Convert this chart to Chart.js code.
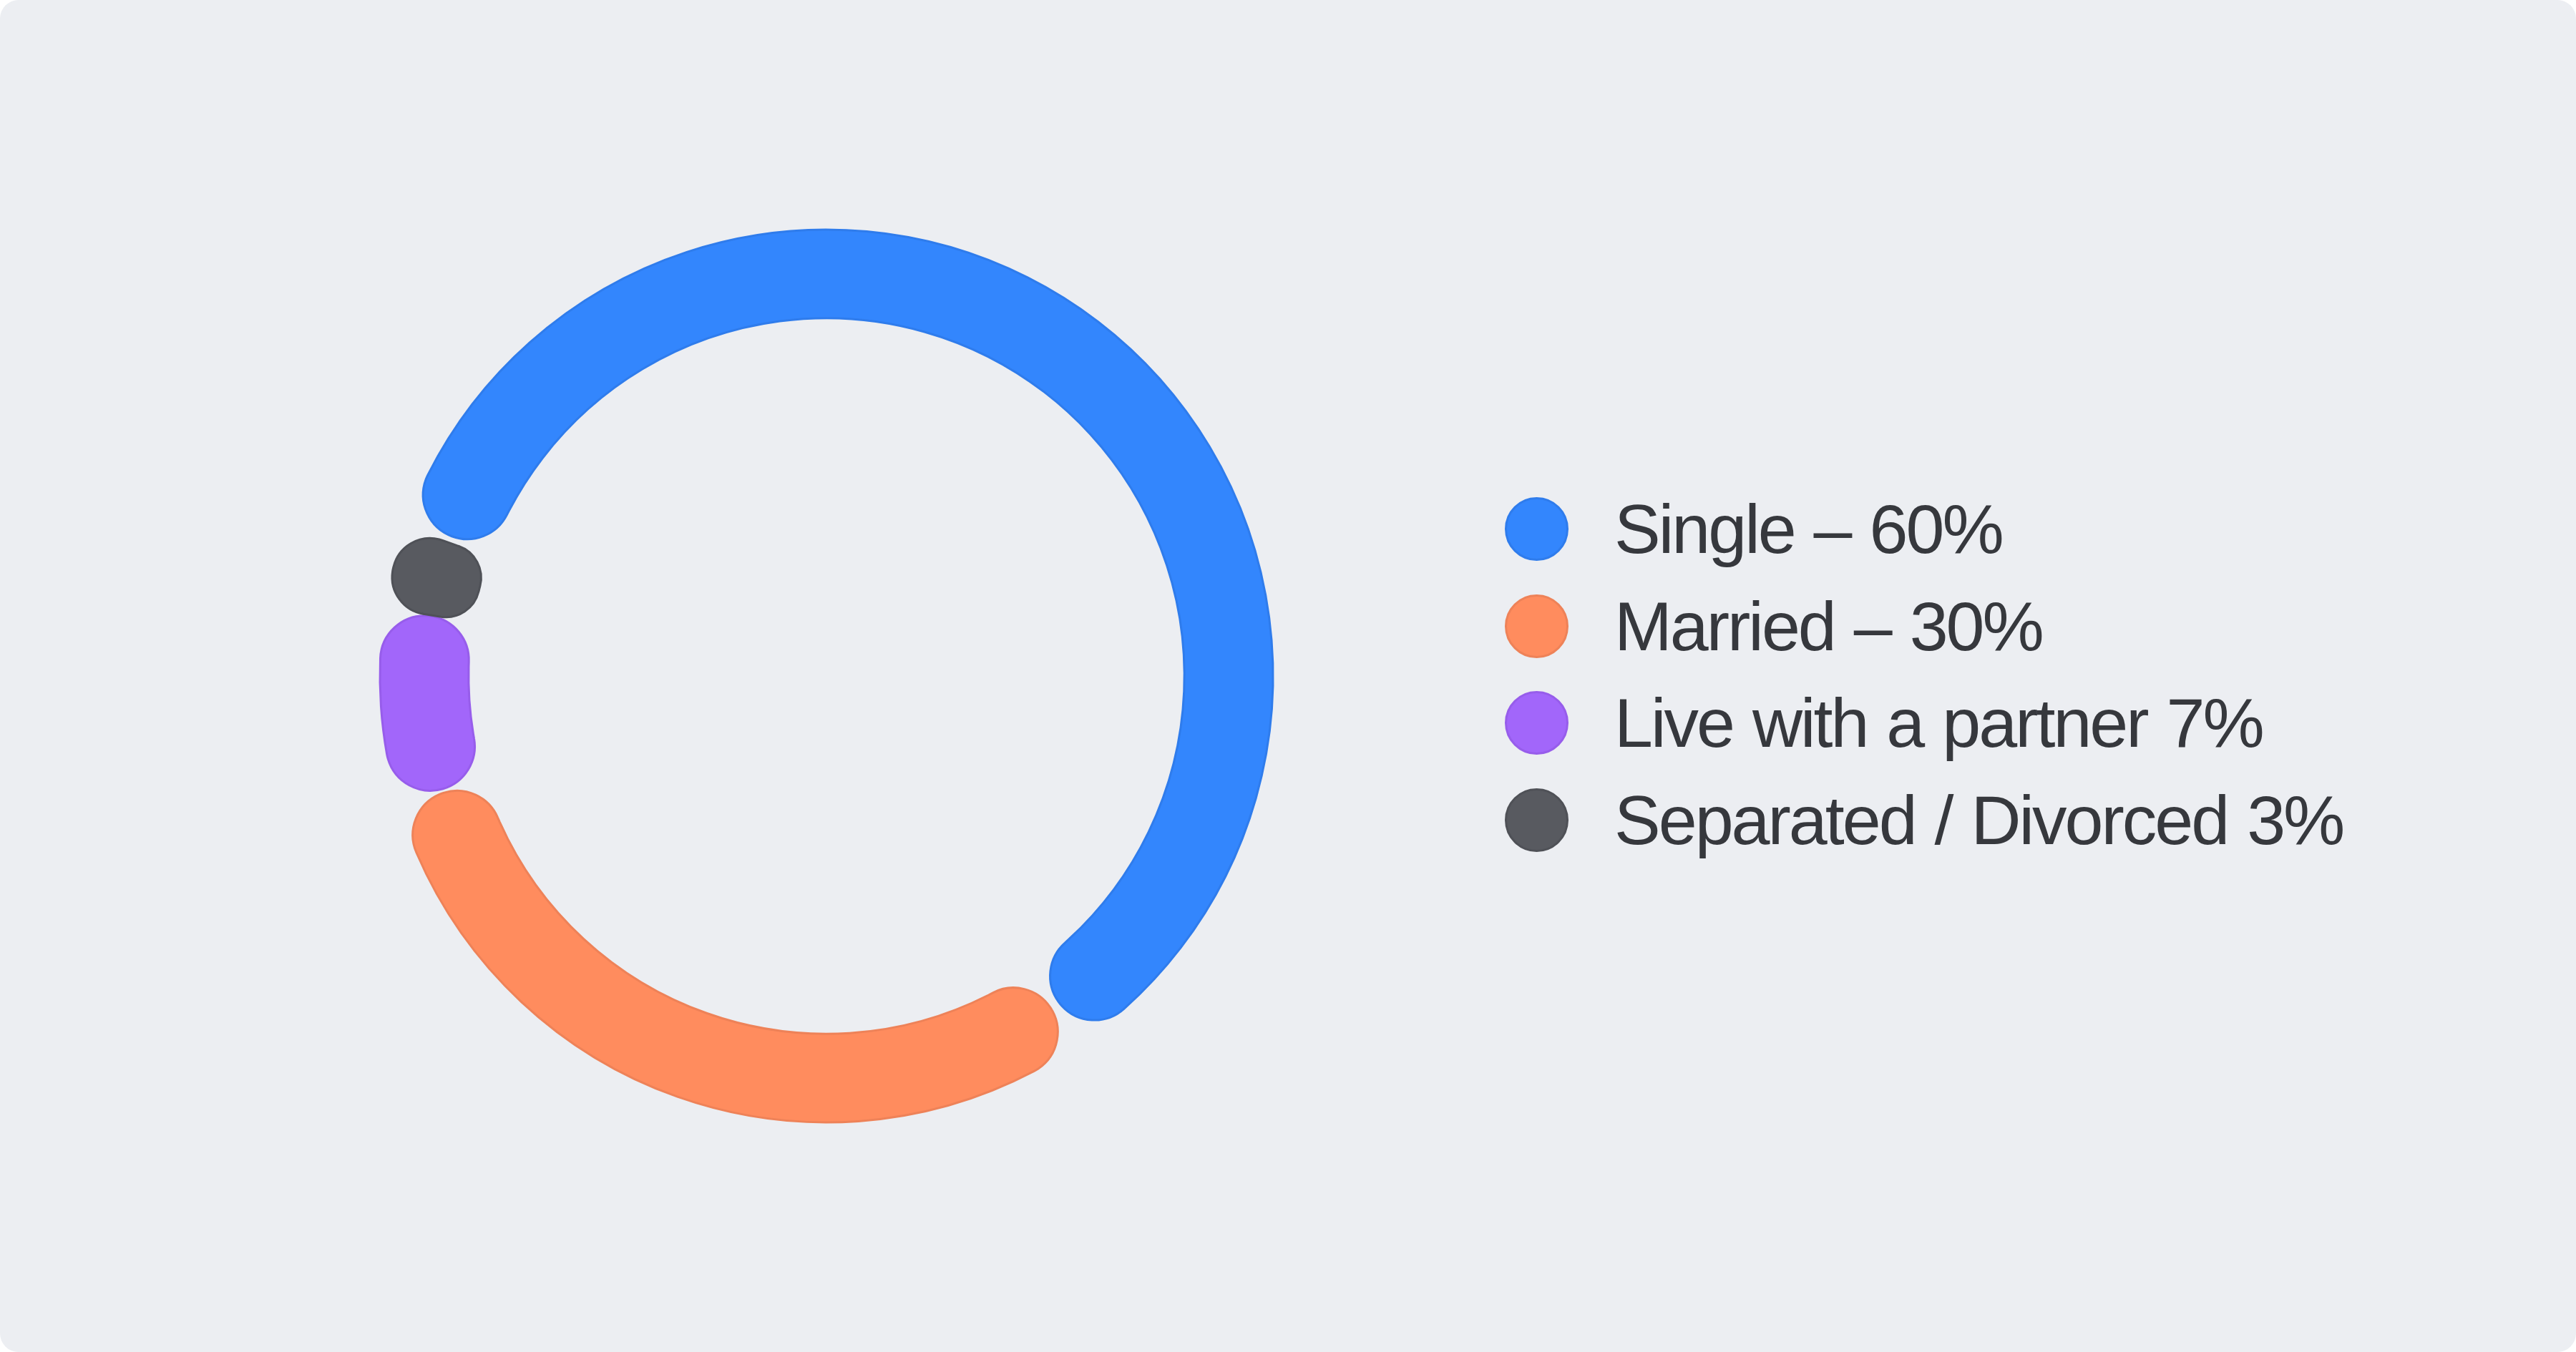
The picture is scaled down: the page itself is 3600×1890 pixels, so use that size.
<!DOCTYPE html>
<html>
<head>
<meta charset="utf-8">
<script src="https://cdn.jsdelivr.net/npm/chart.js@4.4.1/dist/chart.umd.min.js"></script>
<style>
  html, body { margin: 0; padding: 0; background: #ffffff; }
  #card {
    position: relative;
    width: 3600px;
    height: 1890px;
    background: #eceef2;
    border-radius: 26px;
    overflow: hidden;
  }
  #chartBox {
    position: absolute;
    left: 0;
    top: 0;
    width: 2310px;
    height: 1890px;
  }
  #legend {
    position: absolute;
    left: 2103px;
    top: 672px;
    margin: 0;
    padding: 0;
    list-style: none;
    font-family: "Liberation Sans", Arial, sans-serif;
    font-size: 97px;
    letter-spacing: -3px;
    word-spacing: 3px;
    color: #36383d;
  }
  #legend li {
    display: flex;
    align-items: center;
    height: 135.5px;
    line-height: 1;
    white-space: nowrap;
  }
  #legend .dot {
    width: 89px;
    height: 89px;
    border-radius: 50%;
    border: 3px solid;
    box-sizing: border-box;
    margin-right: 64px;
    flex: none;
  }
</style>
</head>
<body>
<div id="card">
  <div id="chartBox"><canvas id="ring"></canvas></div>
  <ul id="legend"></ul>
</div>
<script>
// Marital status split
const categories = ['Single', 'Married', 'Live with a partner', 'Separated / Divorced'];
const shares = [60, 30, 7, 3];
const legendLabels = ['Single – 60%', 'Married – 30%', 'Live with a partner 7%', 'Separated / Divorced 3%'];
const fills = ['#3386fd', '#ff8c5e', '#a266fa', '#585a60'];
const edges = ['#2f7cec', '#ee8258', '#975deb', '#4f5157'];

// builds the legend list next to the canvas from the chart's own label generator
const htmlLegend = {
    id: 'htmlLegend',
    afterUpdate(chart) {
        const ul = document.getElementById('legend');
        ul.innerHTML = '';
        const items = chart.options.plugins.legend.labels.generateLabels(chart);
        items.forEach((item, i) => {
            const li = document.createElement('li');
            const dot = document.createElement('span');
            dot.className = 'dot';
            dot.style.background = item.fillStyle;
            dot.style.borderColor = item.strokeStyle;
            const txt = document.createElement('span');
            txt.textContent = legendLabels[i];
            li.appendChild(dot);
            li.appendChild(txt);
            ul.appendChild(li);
        });
    }
};

new Chart(document.getElementById('ring'), {
    type: 'doughnut',
    data: {
        labels: categories,
        datasets: [{
            data: shares,
            backgroundColor: fills,
            borderColor: edges,
            borderWidth: 3,
            borderRadius: 62,
            spacing: 10
        }]
    },
    options: {
        responsive: true,
        maintainAspectRatio: false,
        animation: false,
        rotation: -70.5,
        radius: 619,
        cutout: '80%',
        layout: { padding: 0 },
        plugins: {
            legend: { display: false },
            tooltip: { enabled: false }
        }
    },
    plugins: [htmlLegend]
});
</script>
</body>
</html>
